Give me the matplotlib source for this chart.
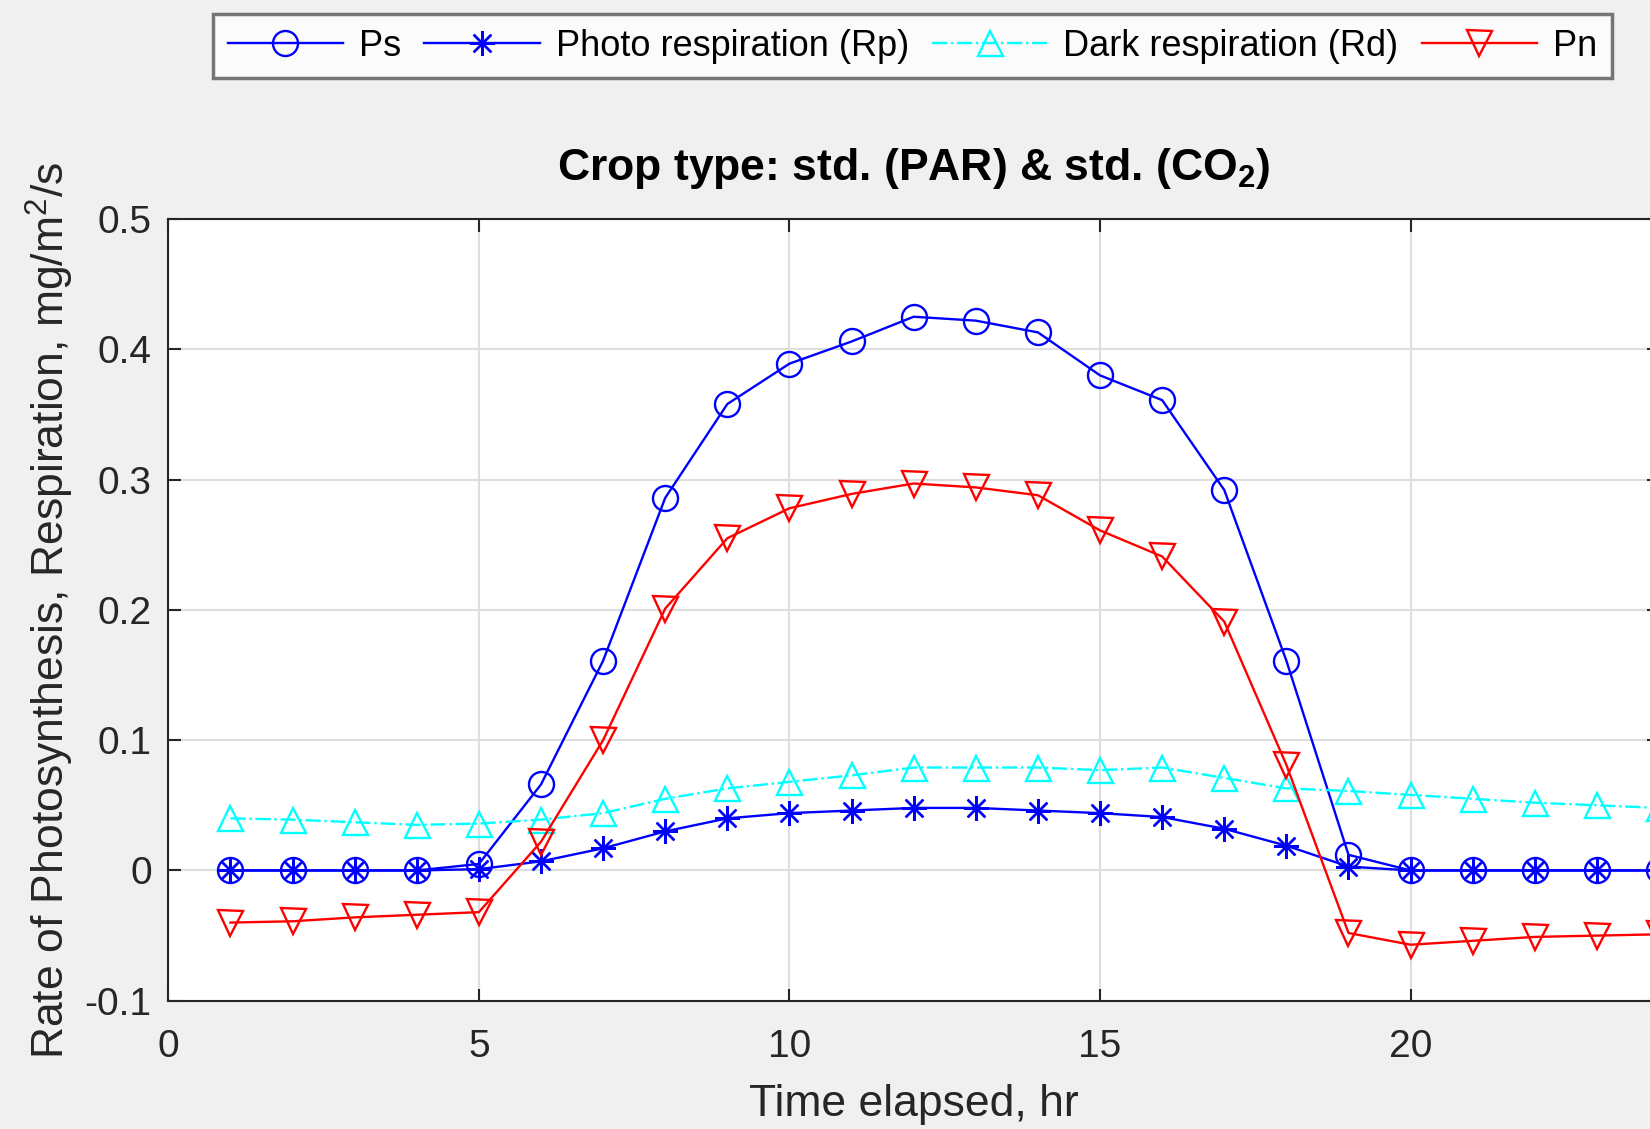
import matplotlib
matplotlib.use("Agg")
import matplotlib.pyplot as plt

plt.rcParams['font.family'] = ['Liberation Sans', 'DejaVu Sans']
plt.rcParams['mathtext.fontset'] = 'custom'
plt.rcParams['mathtext.rm'] = 'Liberation Sans'
plt.rcParams['mathtext.bf'] = 'Liberation Sans:bold'

hours = list(range(1, 25))
ps = [0, 0, 0, 0, 0.005, 0.066, 0.161, 0.286, 0.358, 0.389, 0.406, 0.425,
      0.422, 0.413, 0.380, 0.361, 0.292, 0.161, 0.012, 0, 0, 0, 0, 0]
rp = [0, 0, 0, 0, 0.001, 0.007, 0.017, 0.030, 0.040, 0.044, 0.046, 0.048,
      0.048, 0.046, 0.044, 0.041, 0.032, 0.019, 0.003, 0, 0, 0, 0, 0]
rd = [0.040, 0.039, 0.037, 0.035, 0.036, 0.039, 0.044, 0.055, 0.063, 0.068,
      0.073, 0.079, 0.079, 0.079, 0.077, 0.079, 0.071, 0.063, 0.061, 0.058,
      0.055, 0.052, 0.050, 0.048]
pn = [-0.040, -0.039, -0.036, -0.034, -0.032, 0.022, 0.100, 0.201, 0.255,
      0.278, 0.289, 0.297, 0.294, 0.288, 0.261, 0.241, 0.191, 0.081, -0.048,
      -0.057, -0.054, -0.051, -0.050, -0.049]
labels = ['Ps', 'Photo respiration (Rp)', 'Dark respiration (Rd)', 'Pn']
xticks = [0, 5, 10, 15, 20]
yticks = [-0.1, 0, 0.1, 0.2, 0.3, 0.4, 0.5]
yticklabels = ['-0.1', '0', '0.1', '0.2', '0.3', '0.4', '0.5']

fig = plt.figure(figsize=(16.5, 11.29), dpi=100, facecolor='#f0f0f0')
ax = fig.add_axes([0.102, 0.1136, 0.9035, 0.6924])
ax.set_facecolor('white')

ms = 18
lw = 1.7
asterisk = (8, 2, 0)
l1, = ax.plot(hours, ps, color='#0000ff', marker='o', ms=ms, mfc='none', lw=lw, mew=lw, label=labels[0], clip_on=False)
l2, = ax.plot(hours, rp, color='#0000ff', marker=asterisk, ms=ms, mfc='none', lw=lw, mew=lw, label=labels[1], clip_on=False)
l3, = ax.plot(hours, rd, color='#00ffff', marker='^', ms=ms, mfc='none', lw=lw, mew=lw, ls='-.', label=labels[2], clip_on=False)
l4, = ax.plot(hours, pn, color='#ff0000', marker='v', ms=ms, mfc='none', lw=lw, mew=lw, label=labels[3], clip_on=False)

ax.set_xlim(0, 24)
ax.set_ylim(-0.1, 0.5)
ax.set_xticks(xticks)
ax.set_yticks(yticks)
ax.set_xticklabels([str(t) for t in xticks])
ax.set_yticklabels(yticklabels)
ax.grid(True, color='#dedede', lw=1.5)
ax.set_axisbelow(True)
ax.tick_params(direction='in', length=9, width=1.5, labelsize=28, colors='#262626',
               top=True, right=True)
ax.tick_params(axis='x', pad=20)
ax.tick_params(axis='y', pad=12)
for s in ax.spines.values():
    s.set_color('#262626')
    s.set_linewidth(1.5)

ax.set_title('Crop type: std. (PAR) & std. (CO$_\\mathbf{2}$)', fontsize=32, fontweight='bold', pad=28)
ax.set_xlabel('Time elapsed, hr', fontsize=32, color='#262626', labelpad=14)
ax.set_ylabel('Rate of Photosynthesis, Respiration, mg/m$^2$/s', fontsize=32, color='#262626', labelpad=6)

leg = fig.legend(handles=[l1, l2, l3, l4], loc='center', bbox_to_anchor=(0.553, 0.959),
                 ncol=4, fontsize=26, handlelength=3.2, handletextpad=0.44, columnspacing=0.64,
                 frameon=True, fancybox=False, edgecolor='#555555', borderpad=0.4,
                 markerscale=1.0)
leg.get_frame().set_linewidth(2.5)

fig.savefig('out.png', dpi=100, facecolor=fig.get_facecolor())
